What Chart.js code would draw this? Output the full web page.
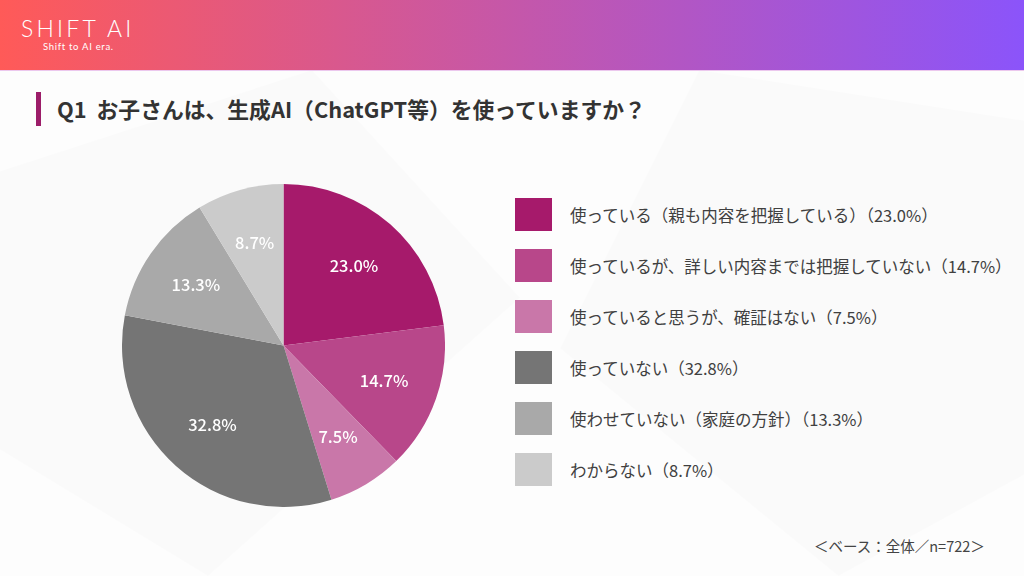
<!DOCTYPE html>
<html lang="ja">
<head>
<meta charset="utf-8">
<title>Q1 生成AIの利用状況</title>
<script src="https://cdn.jsdelivr.net/npm/chart.js@4"></script>
<style>
  html, body { margin: 0; padding: 0; }
  body {
    width: 1024px; height: 576px; overflow: hidden; position: relative;
    background: #fdfdfd;
    font-family: "Noto Sans CJK JP", "Noto Sans", sans-serif;
    color: #3a3a3a;
  }
  .bg { position: absolute; background: rgba(0,0,0,0.011); }
  .bg.a { left: 0; top: 70px; width: 520px; height: 506px; clip-path: polygon(0 20%, 60% 0, 100% 45%, 40% 100%, 0 75%); }
  .bg.b { left: 560px; top: 70px; width: 464px; height: 506px; clip-path: polygon(30% 0, 100% 10%, 100% 80%, 60% 100%, 0 55%); }
  .header {
    position: absolute; left: 0; top: 0; width: 1024px; height: 70px;
    background: linear-gradient(90deg, #ff5a58 0%, #8b54fa 100%);
    border-bottom: 1px solid #ecc8ee;
  }
  .logo {
    position: absolute; left: 21px; top: 14px; color: #fff;
    font-family: "Lato", "Noto Sans", sans-serif; font-weight: 300;
    font-size: 23px; letter-spacing: 3.2px; line-height: 28px;
  }
  .tag {
    position: absolute; left: 43px; top: 41px; color: #fff;
    font-family: "Lato", sans-serif; font-size: 9.5px; letter-spacing: 0.7px;
  }
  .title-bar { position: absolute; left: 36px; top: 92px; width: 5px; height: 34px; background: #9c1d69; }
  .title {
    position: absolute; left: 57px; top: 92px; line-height: 34px;
    font-size: 21.8px; font-weight: 700; color: #333;
  }
  #pieBox { position: absolute; left: 122px; top: 184px; width: 323px; height: 323px; }
  #legend { position: absolute; left: 515px; top: 198px; margin: 0; padding: 0; list-style: none; }
  #legend li { display: flex; align-items: center; height: 33px; margin-bottom: 18px; font-size: 16.5px; color: #404040; }
  #legend .box { width: 37px; height: 33px; margin-right: 18px; flex: none; }
  .note { position: absolute; left: 814px; top: 535px; font-size: 14.5px; color: #444; }
</style>
</head>
<body>
<div class="bg a"></div>
<div class="bg b"></div>
<div class="header">
  <div class="logo">SHIFT AI</div>
  <div class="tag">Shift to AI era.</div>
</div>
<div class="title-bar"></div>
<div class="title">Q1&nbsp;&nbsp;お子さんは、生成AI（ChatGPT等）を使っていますか？</div>
<div id="pieBox"><canvas id="pie"></canvas></div>
<ul id="legend"></ul>
<div class="note">＜ベース：全体／n=722＞</div>

<script>
// answers, in the order they go round the pie (clockwise from 12 o'clock)
const categories = [
  '使っている（親も内容を把握している）',
  '使っているが、詳しい内容までは把握していない',
  '使っていると思うが、確証はない',
  '使っていない',
  '使わせていない（家庭の方針）',
  'わからない'
];
const shares = [23.0, 14.7, 7.5, 32.8, 13.3, 8.7];
const sliceColors = ['#a61a6b', '#b8478a', '#c977a9', '#757575', '#a9a9a9', '#cbcbcb'];

const pct = v => v.toFixed(1) + '%';

// percentage labels inside each slice
const sliceLabels = {
  id: 'sliceLabels',
  afterDatasetsDraw(chart) {
    const ctx = chart.ctx;
    const meta = chart.getDatasetMeta(0);
    ctx.save();
    ctx.fillStyle = '#fff';
    ctx.font = '500 16.5px "Noto Sans CJK JP", "Noto Sans", sans-serif';
    ctx.textAlign = 'center';
    ctx.textBaseline = 'middle';
    meta.data.forEach((arc, i) => {
      const p = arc.getProps(['x', 'y', 'startAngle', 'endAngle', 'outerRadius'], true);
      const mid = (p.startAngle + p.endAngle) / 2;
      const r = p.outerRadius * 0.66;
      ctx.fillText(pct(shares[i]), p.x + Math.cos(mid) * r, p.y + Math.sin(mid) * r);
    });
    ctx.restore();
  }
};

new Chart(document.getElementById('pie'), {
  type: 'pie',
  data: {
    labels: categories,
    datasets: [{ data: shares, backgroundColor: sliceColors, borderWidth: 0 }]
  },
  options: {
    responsive: true,
    maintainAspectRatio: false,
    animation: false,
    layout: { padding: 0 },
    plugins: { legend: { display: false }, tooltip: { enabled: false } }
  },
  plugins: [sliceLabels]
});

const legend = document.getElementById('legend');
categories.forEach((name, i) => {
  const li = document.createElement('li');
  li.innerHTML = '<span class="box" style="background:' + sliceColors[i] + '"></span>' +
    '<span>' + name + '（' + pct(shares[i]) + '）</span>';
  legend.appendChild(li);
});
</script>
</body>
</html>
